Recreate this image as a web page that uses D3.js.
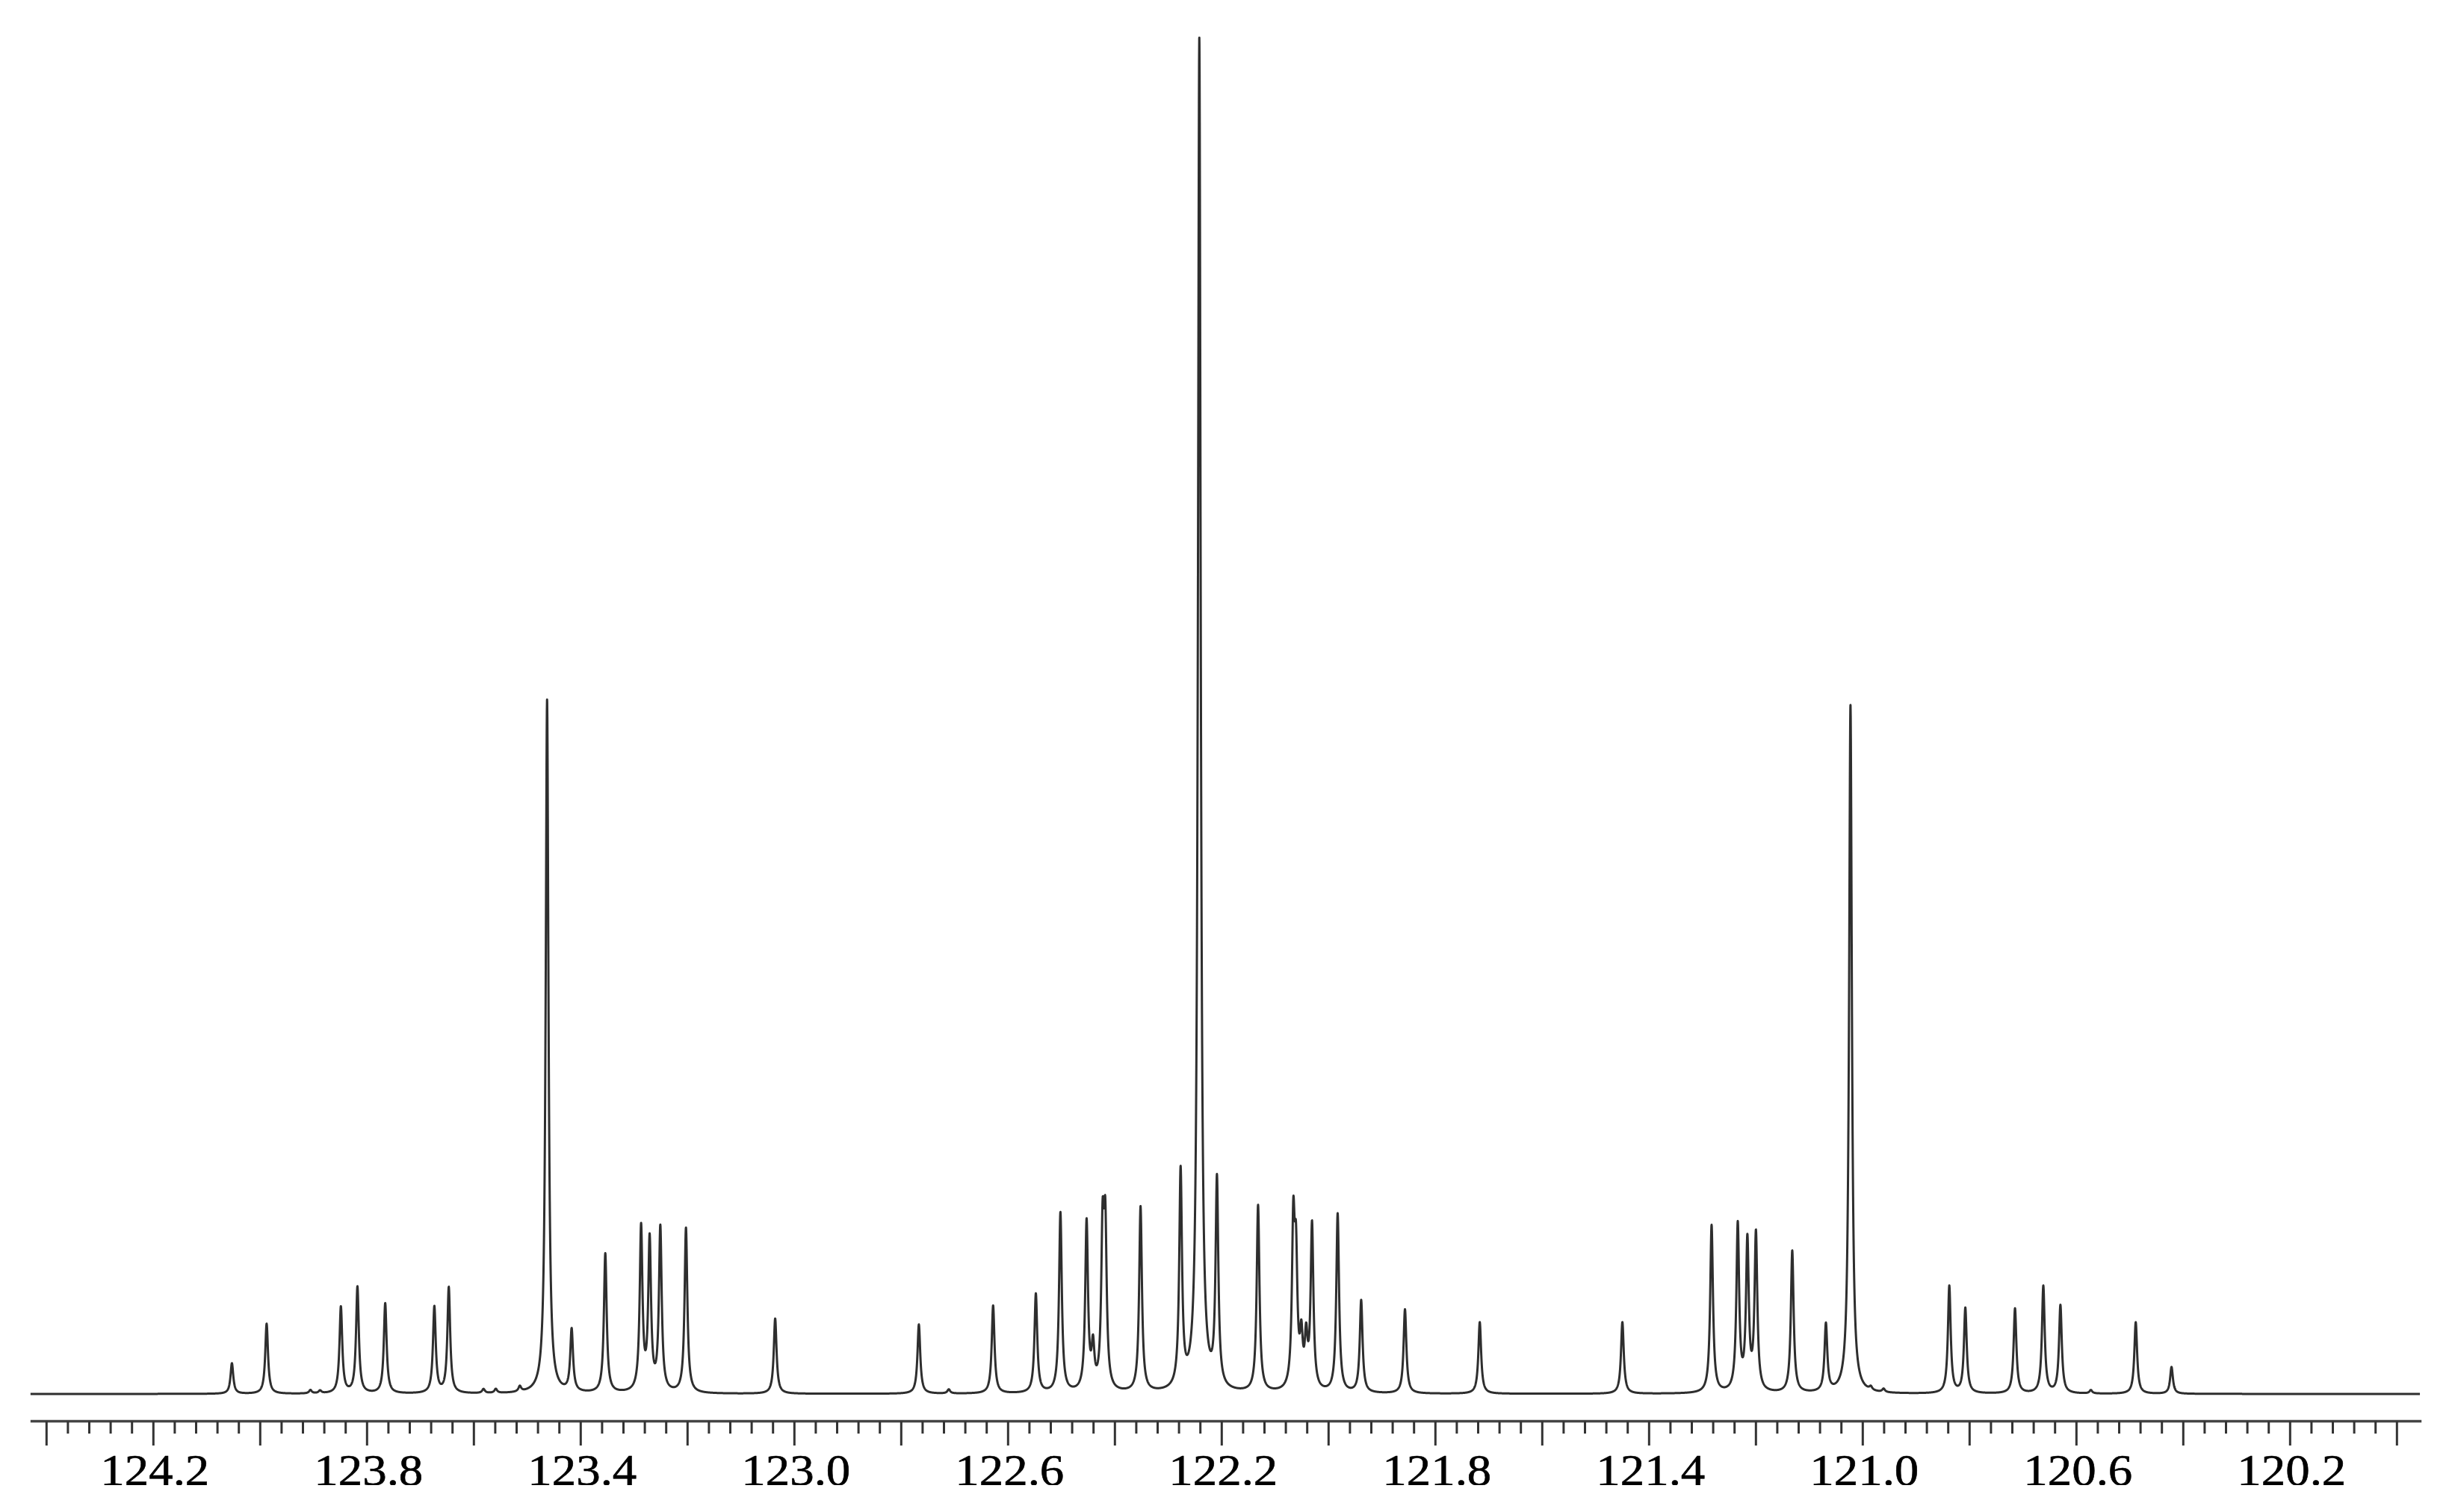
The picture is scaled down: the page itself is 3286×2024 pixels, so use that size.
<!DOCTYPE html>
<html><head><meta charset="utf-8">
<script src="https://cdn.jsdelivr.net/npm/d3@7"></script>
<style>html,body{margin:0;padding:0;background:#fff;} svg{display:block}</style>
</head><body>
<svg id="chart" width="3286" height="2024"></svg>
<script>
// Peak list: chemical shift (ppm) and relative intensity (tallest = 100)
const peakShifts = [
  124.053, 123.988, 123.906, 123.888, 123.849, 123.818, 123.766, 123.674, 123.647,
  123.582, 123.559, 123.514, 123.463, 123.417, 123.354, 123.287, 123.271, 123.251, 123.203,
  123.036, 122.767, 122.711, 122.628, 122.548, 122.502, 122.453, 122.441, 122.423, 122.418,
  122.352, 122.277, 122.242, 122.209, 122.132, 122.066, 122.061, 122.051, 122.042, 122.031,
  121.983, 121.939, 121.857, 121.717, 121.450, 121.283, 121.234, 121.216, 121.200, 121.132,
  121.069, 121.023, 120.985, 120.961, 120.838, 120.808, 120.715, 120.662, 120.630, 120.573,
  120.489, 120.422
];
const peakIntensities = [
  2.26, 5.18, 0.25, 0.2, 6.39, 7.87, 6.66, 6.39, 7.82,
  0.3, 0.3, 0.4, 51.3, 4.6, 10.3, 12.1, 11.1, 12.1, 12.2,
  5.56, 5.12, 0.3, 6.5, 7.32, 13.3, 12.5, 3.0, 11.0, 11.2,
  13.7, 16.0, 100, 15.3, 13.8, 11.7, 8.8, 3.5, 3.5, 12.2,
  13.2, 6.83, 6.22, 5.29, 5.29, 12.4, 12.3, 11.0, 11.6, 10.5,
  5.0, 50.9, 0.25, 0.25, 7.93, 6.28, 6.28, 7.93, 6.5, 0.25,
  5.29, 1.98
];
const lineWidthPpm = 0.0062;           // full width at half height
const spectrumRange = [124.43, 119.957];
const majorTickValues = [124.4, 124.2, 124.0, 123.8, 123.6, 123.4, 123.2, 123.0, 122.8, 122.6, 122.4,
  122.2, 122.0, 121.8, 121.6, 121.4, 121.2, 121.0, 120.8, 120.6, 120.4, 120.2, 120.0];
const tickLabels = ["124.2", "123.8", "123.4", "123.0", "122.6", "122.2", "121.8", "121.4", "121.0", "120.6", "120.2"];

const svg = d3.select("#chart");
const x = d3.scaleLinear().domain([124.4, 120.0]).range([62.3, 3208.3]);
const y = d3.scaleLinear().domain([0, 100]).range([1866, 56]);

const peaks = peakShifts.map((c, i) => ({c, a: peakIntensities[i]}));
const hw = lineWidthPpm / 2;
const grid = d3.range(spectrumRange[1], spectrumRange[0], 0.0003).concat(peakShifts).sort((a, b) => a - b);
const spectrum = grid.map(p => {
  let v = 0;
  for (const pk of peaks) { const t = (p - pk.c) / hw; v += pk.a / (1 + t * t); }
  return {p, v};
});

svg.append("path")
  .datum(spectrum)
  .attr("fill", "none")
  .attr("stroke", "#2e2e2e")
  .attr("stroke-width", 3)
  .attr("stroke-linejoin", "round")
  .attr("d", d3.line().x(d => x(d.p)).y(d => y(d.v)));

// axis
const axisY = 1902.5;
svg.append("line")
  .attr("x1", x(spectrumRange[0])).attr("x2", x(119.954))
  .attr("y1", axisY).attr("y2", axisY)
  .attr("stroke", "#444").attr("stroke-width", 3.5);

const minorTicks = d3.range(0, 111).map(i => +(124.4 - i * 0.04).toFixed(2));
const isMajor = v => majorTickValues.some(m => Math.abs(m - v) < 1e-6);
svg.append("g").selectAll("line").data(minorTicks).join("line")
  .attr("x1", d => x(d)).attr("x2", d => x(d))
  .attr("y1", axisY).attr("y2", d => isMajor(d) ? 1935 : 1919)
  .attr("stroke", "#333").attr("stroke-width", 3);

// labels are slightly cropped at the bottom in the original picture
svg.append("clipPath").attr("id", "labelClip")
  .append("rect").attr("x", 0).attr("y", 1936).attr("width", 3286).attr("height", 52);

svg.append("g").attr("clip-path", "url(#labelClip)")
  .selectAll("text").data(tickLabels).join("text")
  .attr("transform", d => `translate(${x(+d) + 2},1988) scale(1.1,1)`)
  .attr("text-anchor", "middle")
  .attr("font-family", "'Liberation Serif', serif")
  .attr("font-size", 59)
  .attr("fill", "#000")
  .attr("stroke", "#000")
  .attr("stroke-width", 0.6)
  .text(d => d);
</script>
</body></html>
